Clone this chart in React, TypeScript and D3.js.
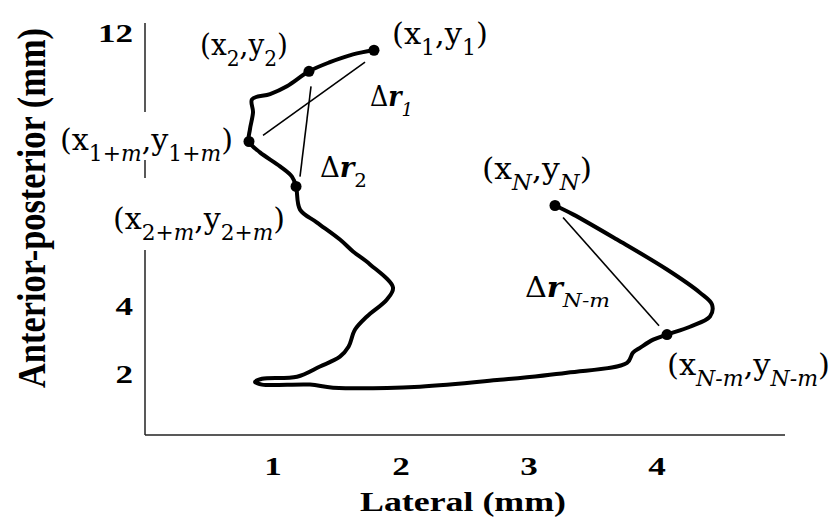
import React from "react";
import * as d3 from "d3";

// Trajectory of the centre of pressure (mm)
const lateral = [
  1.789, 1.625, 1.445, 1.281, 1.109, 0.977, 0.836, 0.844, 0.82, 0.8125,
  0.898, 1.055, 1.148, 1.18, 1.211, 1.344, 1.523, 1.625, 1.758, 1.9375,
  1.89, 1.734, 1.64, 1.59, 1.523, 1.367, 1.1875, 0.914, 0.859, 0.914,
  1.289, 1.469, 2.148, 2.773, 3.297, 3.766, 3.8125, 3.867, 3.97, 4.078,
  4.258, 4.414, 4.43, 4.336, 4.078, 3.6875, 3.344, 3.203,
];
const anteriorPosterior = [
  11.5, 11.38, 11.15, 10.88, 10.44, 10.21, 10.06, 9.68, 9.18, 8.82,
  8.5, 8.09, 7.79, 7.5, 6.82, 6.44, 5.94, 5.59, 5.21, 4.53,
  4.18, 3.68, 3.29, 2.79, 2.5, 2.21, 1.91, 1.85, 1.76, 1.68,
  1.68, 1.59, 1.62, 1.82, 2.03, 2.32, 2.62, 2.76, 3.0, 3.15,
  3.38, 3.68, 4.03, 4.38, 5.06, 5.94, 6.68, 6.94,
];
// indices of the marked samples: 1, 2, 1+m, 2+m, N-m, N
const markedIdx = [0, 3, 9, 13, 39, 47];

// Displacement vectors drawn as thin lines (lateral, AP)
const dr1 = [[0.922, 9.0], [1.719, 11.15]];
const dr2 = [[1.297, 10.44], [1.211, 7.79]];
const drNm = [[3.266, 6.59], [4.016, 3.41]];

const xTicks = [1, 2, 3, 4];
const yTicks = [2, 4, 12];

const SERIF = "'Liberation Serif', 'Times New Roman', Times, serif";
const LABEL_FONT = "'DejaVu Serif', 'Liberation Serif', serif";

type Part = { t: string; sub?: boolean; it?: boolean; bold?: boolean };

function Label({ x, y, width, size, parts, font = LABEL_FONT }: { x: number; y: number; width: number; size: number; parts: Part[]; font?: string }) {
  const subSize = size * 0.72;
  const shift = size * 0.38;
  let cur = 0;
  const spans = parts.map((p, i) => {
    const target = p.sub ? shift : 0;
    const dy = target - cur;
    cur = target;
    return (
      <tspan
        key={i}
        dy={dy}
        fontSize={p.sub ? subSize : size}
        fontStyle={p.it ? "italic" : "normal"}
        fontWeight={p.bold ? "bold" : "normal"}
      >
        {p.t}
      </tspan>
    );
  });
  return (
    <text x={x} y={y} fontFamily={font} fontSize={size} fill="#000" textLength={width} lengthAdjust="spacingAndGlyphs">
      {spans}
    </text>
  );
}

export default function App() {
  const W = 833;
  const H = 522;
  const x = d3.scaleLinear().domain([0, 5]).range([145, 785]);
  const y = d3.scaleLinear().domain([0.2, 12.3]).range([435, 23]);

  const pts: [number, number][] = lateral.map((v, i) => [v, anteriorPosterior[i]]);
  const line = d3
    .line<[number, number]>()
    .x((d) => x(d[0]))
    .y((d) => y(d[1]))
    .curve(d3.curveCatmullRom.alpha(0.5));

  const thin = d3
    .line<number[]>()
    .x((d) => x(d[0]))
    .y((d) => y(d[1]));

  const x0 = x(0);
  const y0 = y(0.2);

  return (
    <svg width={W} height={H} style={{ position: "absolute", left: 0, top: 0, background: "#fff" }}>
      <rect x={0} y={0} width={W} height={H} fill="#fff" />
      {/* axes */}
      <line x1={x0} y1={y.range()[1]} x2={x0} y2={y0} stroke="#222" strokeWidth={1.5} />
      <line x1={x0} y1={y0} x2={x.range()[1]} y2={y0} stroke="#222" strokeWidth={1.5} />

      {/* tick labels */}
      {xTicks.map((t) => (
        <text
          key={"x" + t}
          transform={`translate(${x(t)},${y0 + 40}) scale(1.35,1)`}
          textAnchor="middle"
          fontFamily={SERIF}
          fontWeight="bold"
          fontSize={26}
        >
          {t}
        </text>
      ))}
      {yTicks.map((t) => (
        <text
          key={"y" + t}
          transform={`translate(${x0 - 12},${y(t) + 9}) scale(1.35,1)`}
          textAnchor="end"
          fontFamily={SERIF}
          fontWeight="bold"
          fontSize={26}
        >
          {t}
        </text>
      ))}

      {/* axis titles */}
      <text
        x={360}
        y={511}
        fontFamily={SERIF}
        fontWeight="bold"
        fontSize={28}
        textLength={206}
        lengthAdjust="spacingAndGlyphs"
      >
        Lateral (mm)
      </text>
      <text
        transform="translate(45,388) scale(1.25,1) rotate(-90)"
        x={0}
        y={0}
        fontFamily={SERIF}
        fontWeight="bold"
        fontSize={32}
        textLength={360}
        lengthAdjust="spacingAndGlyphs"
      >
        Anterior-posterior (mm)
      </text>

      {/* white boxes that break the y axis behind labels */}
      <rect x={58} y={112} width={178} height={48} fill="#fff" />
      <rect x={110} y={178} width={177} height={72} fill="#fff" />

      {/* thin displacement lines */}
      {[dr1, dr2, drNm].map((d, i) => (
        <path key={"dr" + i} d={thin(d) || ""} fill="none" stroke="#000" strokeWidth={1.6} />
      ))}

      {/* trajectory */}
      <path d={line(pts) || ""} fill="none" stroke="#000" strokeWidth={4} strokeLinejoin="round" strokeLinecap="round" />
      {markedIdx.map((i) => (
        <circle key={"m" + i} cx={x(lateral[i])} cy={y(anteriorPosterior[i])} r={5.5} fill="#000" />
      ))}

      {/* annotations */}
      <Label x={392} y={44} width={96} size={30} parts={[{ t: "(x" }, { t: "1", sub: true }, { t: ",y" }, { t: "1", sub: true }, { t: ")" }]} />
      <Label x={200} y={55} width={88} size={30} parts={[{ t: "(x" }, { t: "2", sub: true }, { t: ",y" }, { t: "2", sub: true }, { t: ")" }]} />
      <Label
        x={60}
        y={150}
        width={173}
        size={30}
        parts={[
          { t: "(x" },
          { t: "1+", sub: true },
          { t: "m", sub: true, it: true },
          { t: ",y" },
          { t: "1+", sub: true },
          { t: "m", sub: true, it: true },
          { t: ")" },
        ]}
      />
      <Label
        x={113}
        y={229}
        width={172}
        size={30}
        parts={[
          { t: "(x" },
          { t: "2+", sub: true },
          { t: "m", sub: true, it: true },
          { t: ",y" },
          { t: "2+", sub: true },
          { t: "m", sub: true, it: true },
          { t: ")" },
        ]}
      />
      <Label
        x={482}
        y={179}
        width={110}
        size={30}
        parts={[{ t: "(x" }, { t: "N", sub: true, it: true }, { t: ",y" }, { t: "N", sub: true, it: true }, { t: ")" }]}
      />
      <Label
        x={667}
        y={375}
        width={163}
        size={30}
        parts={[{ t: "(x" }, { t: "N-m", sub: true, it: true }, { t: ",y" }, { t: "N-m", sub: true, it: true }, { t: ")" }]}
      />
      <Label x={370} y={106} width={43} size={27} parts={[{ t: "Δ" }, { t: "r", it: true, bold: true }, { t: "1", sub: true, it: true }]} />
      <Label x={320} y={177} width={47} size={27} parts={[{ t: "Δ" }, { t: "r", it: true, bold: true }, { t: "2", sub: true }]} />
      <Label x={525} y={297} width={85} size={27} parts={[{ t: "Δ" }, { t: "r", it: true, bold: true }, { t: "N-m", sub: true, it: true }]} />
    </svg>
  );
}
